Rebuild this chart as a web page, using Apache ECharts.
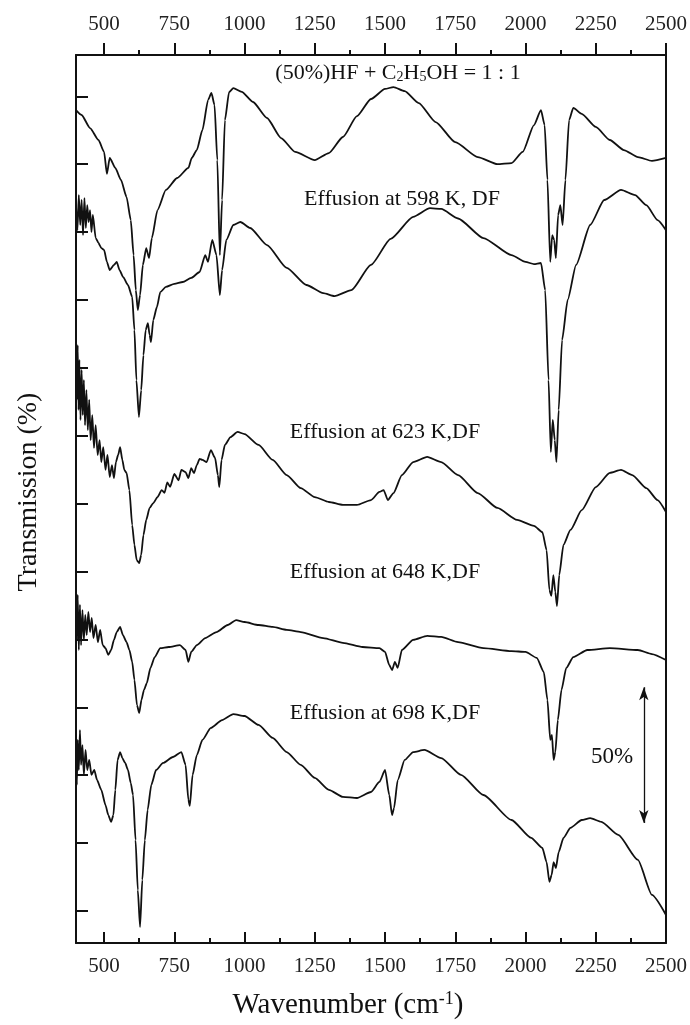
<!DOCTYPE html>
<html>
<head>
<meta charset="utf-8">
<script src="https://cdn.jsdelivr.net/npm/echarts@6/dist/echarts.min.js"></script>
<style>
  html, body { margin: 0; padding: 0; background: #fff; }
  #chart { width: 690px; height: 1025px; }
</style>
</head>
<body>
<div id="chart"></div>
<script>
// FTIR transmission spectra, stacked with vertical offsets (values in % on a shared scale)
const xMajorTicks = [500, 750, 1000, 1250, 1500, 1750, 2000, 2250, 2500];
const xMinorTicks = [625, 875, 1125, 1375, 1625, 1875, 2125, 2375];
const yTicks = [0, 25, 50, 75, 100, 125, 150, 175, 200, 225, 250, 275, 300];

// (50%)HF + C2H5OH = 1 : 1
const specHF = [[400,294.9],[420,293.1],[450,288.3],[480,283.9],[500,279.5],[510,271.4],[520,277.3],[540,273.6],[560,269.2],[580,262.9],[595,254.4],[605,241.5],[613,228.6],[620,221.3],[628,226.8],[638,237.9],[650,244.1],[660,240.4],[670,247.8],[690,258.1],[720,265.5],[760,269.9],[800,273.6],[812,277.3],[830,280.2],[850,287.6],[870,298.6],[882,301.2],[893,296.8],[903,276.5],[912,241.5],[920,261.8],[930,291.2],[945,301.6],[960,303.0],[990,301.6],[1030,297.9],[1080,292.0],[1130,284.6],[1180,279.5],[1250,276.5],[1300,279.1],[1350,285.0],[1400,292.7],[1450,299.0],[1500,302.7],[1530,303.4],[1570,301.9],[1620,297.5],[1680,290.5],[1750,283.1],[1830,277.6],[1900,275.0],[1950,275.4],[1990,279.5],[2030,289.4],[2055,294.9],[2068,289.4],[2078,269.2],[2088,239.0],[2095,248.9],[2102,247.1],[2108,240.4],[2116,256.3],[2124,259.9],[2132,252.6],[2142,269.2],[2155,291.2],[2170,295.7],[2200,293.5],[2250,288.7],[2300,283.9],[2350,280.2],[2400,277.6],[2450,276.2],[2500,277.3]];

// Effusion at 598 K
const spec598 = [[400,259.9],[405,250.7],[410,263.6],[415,252.6],[420,261.8],[425,248.9],[430,262.5],[435,251.5],[440,259.9],[445,253.7],[450,258.1],[455,250.0],[460,256.3],[470,247.8],[480,246.0],[490,244.1],[500,243.4],[510,239.0],[520,236.0],[535,237.9],[545,239.0],[555,236.0],[568,233.4],[585,230.5],[600,226.1],[608,213.9],[615,195.5],[624,181.9],[632,191.8],[640,204.7],[648,213.9],[656,216.5],[662,212.1],[667,209.5],[675,217.6],[688,222.4],[700,227.9],[720,229.8],[750,230.9],[780,231.6],[810,233.1],[840,235.3],[860,241.5],[870,239.0],[885,247.1],[900,241.5],[912,226.8],[920,236.0],[935,247.1],[960,252.6],[985,253.7],[1020,251.5],[1080,245.2],[1150,236.8],[1220,230.5],[1280,227.5],[1320,226.4],[1380,228.6],[1450,237.9],[1520,247.5],[1600,255.6],[1660,258.8],[1700,258.5],[1760,255.0],[1850,247.8],[1950,241.5],[2000,239.0],[2030,238.2],[2055,238.6],[2070,228.6],[2082,195.5],[2090,169.0],[2097,180.8],[2104,173.4],[2110,165.3],[2118,184.5],[2130,210.2],[2150,225.0],[2180,237.9],[2230,252.6],[2280,261.8],[2340,265.5],[2390,263.6],[2430,259.9],[2470,254.4],[2500,250.7]];

// Effusion at 623 K
const spec623 = [[400,201.0],[403,188.2],[406,208.4],[409,184.5],[412,202.9],[416,180.8],[420,199.2],[424,182.6],[428,195.5],[432,178.9],[437,191.8],[442,177.1],[447,188.2],[452,173.4],[458,182.6],[464,170.5],[470,178.9],[477,167.9],[484,173.4],[490,165.3],[497,170.8],[505,162.4],[512,167.9],[520,159.8],[528,164.2],[535,159.4],[542,165.3],[550,167.9],[557,170.8],[565,166.1],[572,162.4],[580,161.3],[590,155.0],[600,142.1],[608,134.8],[616,129.2],[625,128.1],[632,131.1],[640,138.4],[650,144.0],[662,148.4],[675,150.2],[690,152.4],[705,155.0],[715,154.0],[725,157.8],[735,156.2],[750,160.9],[765,158.6],[775,162.4],[790,161.6],[800,159.4],[810,163.1],[820,161.2],[830,164.2],[840,166.5],[850,166.1],[865,165.3],[880,169.7],[895,166.8],[905,160.5],[910,156.1],[918,166.1],[930,171.6],[950,174.5],[975,176.4],[1000,175.6],[1050,171.6],[1100,166.1],[1150,160.5],[1200,155.7],[1250,152.4],[1300,150.6],[1350,149.5],[1400,149.5],[1450,151.3],[1480,154.3],[1495,155.0],[1510,151.3],[1530,153.9],[1560,160.5],[1600,165.3],[1650,167.2],[1700,165.3],[1760,160.5],[1830,153.9],[1900,148.4],[1970,144.0],[2030,141.8],[2060,139.5],[2075,132.9],[2085,118.2],[2092,116.0],[2099,123.7],[2106,117.5],[2112,112.3],[2120,123.7],[2135,134.8],[2160,140.3],[2200,147.6],[2250,156.1],[2300,161.3],[2340,162.4],[2380,160.5],[2430,155.7],[2470,151.3],[2500,146.9]];

// Effusion at 648 K
const spec648 = [[400,114.5],[403,99.8],[406,116.4],[410,96.1],[414,112.7],[418,97.9],[423,110.8],[428,99.8],[433,109.0],[438,101.6],[444,110.1],[450,102.7],[456,107.9],[462,100.5],[470,105.3],[478,99.0],[486,103.5],[495,97.9],[505,96.8],[515,94.3],[525,96.1],[535,99.8],[545,102.7],[557,104.6],[567,101.6],[580,99.0],[590,96.1],[600,91.7],[608,85.1],[617,75.8],[625,72.9],[633,77.7],[642,81.4],[652,83.9],[665,89.5],[680,93.5],[700,96.8],[730,97.2],[770,97.9],[790,96.1],[800,91.7],[810,95.4],[830,97.9],[860,100.5],[900,102.7],[940,105.3],[970,107.1],[1000,106.4],[1050,105.3],[1100,104.6],[1150,103.5],[1200,102.7],[1280,100.5],[1350,98.7],[1420,97.2],[1480,96.8],[1500,95.4],[1515,90.6],[1525,88.7],[1535,91.7],[1545,89.5],[1560,96.1],[1600,99.8],[1650,101.3],[1700,100.9],[1760,99.0],[1850,96.8],[1950,95.7],[2000,95.4],[2040,93.2],[2065,88.0],[2078,77.7],[2088,63.0],[2094,64.8],[2100,55.6],[2106,58.5],[2115,70.3],[2128,81.4],[2145,89.5],[2170,93.5],[2220,96.1],[2300,96.8],[2400,96.1],[2450,94.6],[2500,92.4]];

// Effusion at 698 K
const spec698 = [[400,64.8],[403,46.4],[406,63.0],[410,51.9],[414,66.6],[418,53.8],[423,61.1],[428,50.1],[434,59.3],[440,51.9],[447,55.6],[455,50.1],[465,51.9],[475,48.2],[490,44.6],[505,39.0],[515,35.3],[525,32.8],[533,35.3],[540,44.6],[548,55.6],[557,58.5],[565,56.3],[575,54.5],[585,51.9],[595,47.1],[603,42.7],[612,26.1],[620,7.7],[628,-5.9],[636,11.4],[645,26.1],[655,37.2],[668,46.4],[685,51.9],[710,54.5],[745,56.7],[775,58.5],[790,53.8],[800,40.9],[805,38.7],[815,50.1],[830,57.4],[850,63.0],[880,67.4],[920,70.3],[960,72.5],[1000,71.8],[1050,68.5],[1100,63.7],[1150,58.5],[1200,53.8],[1250,49.0],[1300,44.6],[1350,42.0],[1400,41.6],[1450,43.8],[1480,47.5],[1500,51.9],[1515,42.7],[1525,35.3],[1532,37.9],[1545,48.2],[1570,55.6],[1600,58.5],[1640,59.3],[1700,56.3],[1770,50.1],[1850,42.7],[1950,33.5],[2020,26.9],[2060,23.2],[2075,18.0],[2085,10.7],[2093,13.3],[2100,18.0],[2108,15.8],[2118,21.7],[2135,26.9],[2160,30.6],[2200,33.5],[2230,34.2],[2270,32.8],[2330,28.0],[2400,18.8],[2450,5.9],[2500,-1.5]];

// 50 % scale bar: wavenumber position and its lower end on the offset scale
const scaleBar = { x: 2421, from: 32.4, span: 50 };

const SERIF = '"Liberation Serif", "DejaVu Serif", serif';
const INK = '#111';

function xAxisDef(position, ticks, opts) {
  return {
    type: 'value', position: position, min: 400, max: 2500,
    splitLine: { show: false },
    axisLine: { show: opts.line, onZero: false, lineStyle: { color: INK, width: 2 } },
    axisTick: { show: true, inside: opts.inside, length: opts.len, customValues: ticks,
                lineStyle: { color: INK, width: 2 } },
    axisLabel: opts.labels
      ? { show: true, customValues: ticks, margin: opts.margin, color: '#222',
          fontFamily: SERIF, fontSize: 21, formatter: (v) => String(v) }
      : { show: false }
  };
}

function curve(name, data) {
  return {
    name: name, type: 'line', data: data, showSymbol: false, silent: true,
    smooth: 0.2, smoothMonotone: 'x',
    lineStyle: { color: INK, width: 1.8 },
    animation: false
  };
}

const chart = echarts.init(document.getElementById('chart'), null, { renderer: 'canvas' });

const series = [
  curve('HF', specHF),
  curve('598K', spec598),
  curve('623K', spec623),
  curve('648K', spec648),
  curve('698K', spec698),
  {
    type: 'line', data: [], silent: true, animation: false,
    markLine: {
      silent: true, animation: false,
      symbol: ['arrow', 'arrow'], symbolSize: [7, 13],
      lineStyle: { color: INK, width: 1.3, type: 'solid' },
      label: { show: false },
      data: [[{ coord: [scaleBar.x, scaleBar.from] },
              { coord: [scaleBar.x, scaleBar.from + scaleBar.span] }]]
    }
  }
];

const subRich = {
  sub: { fontFamily: SERIF, fontSize: 14, lineHeight: 14, padding: [9, 0, 0, 0],
         verticalAlign: 'bottom', fill: INK },
  sup: { fontFamily: SERIF, fontSize: 18, lineHeight: 18, padding: [0, 0, 12, 0],
         verticalAlign: 'top', fill: INK }
};

function label(text, x, y, size) {
  return {
    type: 'text', x: x, y: y, silent: true,
    style: { text: text, fill: INK, font: size + 'px ' + SERIF,
             align: 'center', verticalAlign: 'middle', rich: subRich }
  };
}

chart.setOption({
  animation: false,
  backgroundColor: '#fff',
  grid: { left: 76, right: 24, top: 55, bottom: 82, containLabel: false },
  xAxis: [
    xAxisDef('bottom', xMajorTicks, { line: true, inside: true, len: 11, labels: true, margin: 13 }),
    xAxisDef('bottom', xMinorTicks, { line: false, inside: true, len: 5, labels: false }),
    xAxisDef('top', xMajorTicks, { line: true, inside: false, len: 12, labels: true, margin: 20 }),
    xAxisDef('top', xMinorTicks, { line: false, inside: false, len: 5, labels: false })
  ],
  yAxis: [
    {
      type: 'value', position: 'left', min: -11.8, max: 315.2,
      splitLine: { show: false },
      axisLine: { show: true, onZero: false, lineStyle: { color: INK, width: 2 } },
      axisTick: { show: true, inside: true, length: 12, customValues: yTicks,
                  lineStyle: { color: INK, width: 2 } },
      axisLabel: { show: false }
    },
    {
      type: 'value', position: 'right', min: -11.8, max: 315.2,
      splitLine: { show: false },
      axisLine: { show: true, onZero: false, lineStyle: { color: INK, width: 2 } },
      axisTick: { show: false }, axisLabel: { show: false }
    }
  ],
  series: series,
  graphic: [
    label('(50%)HF + C{sub|2}H{sub|5}OH = 1 : 1', 398, 73, 22),
    label('Effusion at 598 K, DF', 402, 199, 22),
    label('Effusion at 623 K,DF', 385, 432, 22),
    label('Effusion at 648 K,DF', 385, 572, 22),
    label('Effusion at 698 K,DF', 385, 713, 22),
    label('50%', 612, 757, 23),
    label('Wavenumber (cm{sup|-1})', 348, 1005, 29),
    {
      type: 'text', x: 29, y: 492, rotation: Math.PI / 2, silent: true,
      style: { text: 'Transmission (%)', fill: INK, font: '28px ' + SERIF,
               align: 'center', verticalAlign: 'middle' }
    }
  ]
});
</script>
</body>
</html>
